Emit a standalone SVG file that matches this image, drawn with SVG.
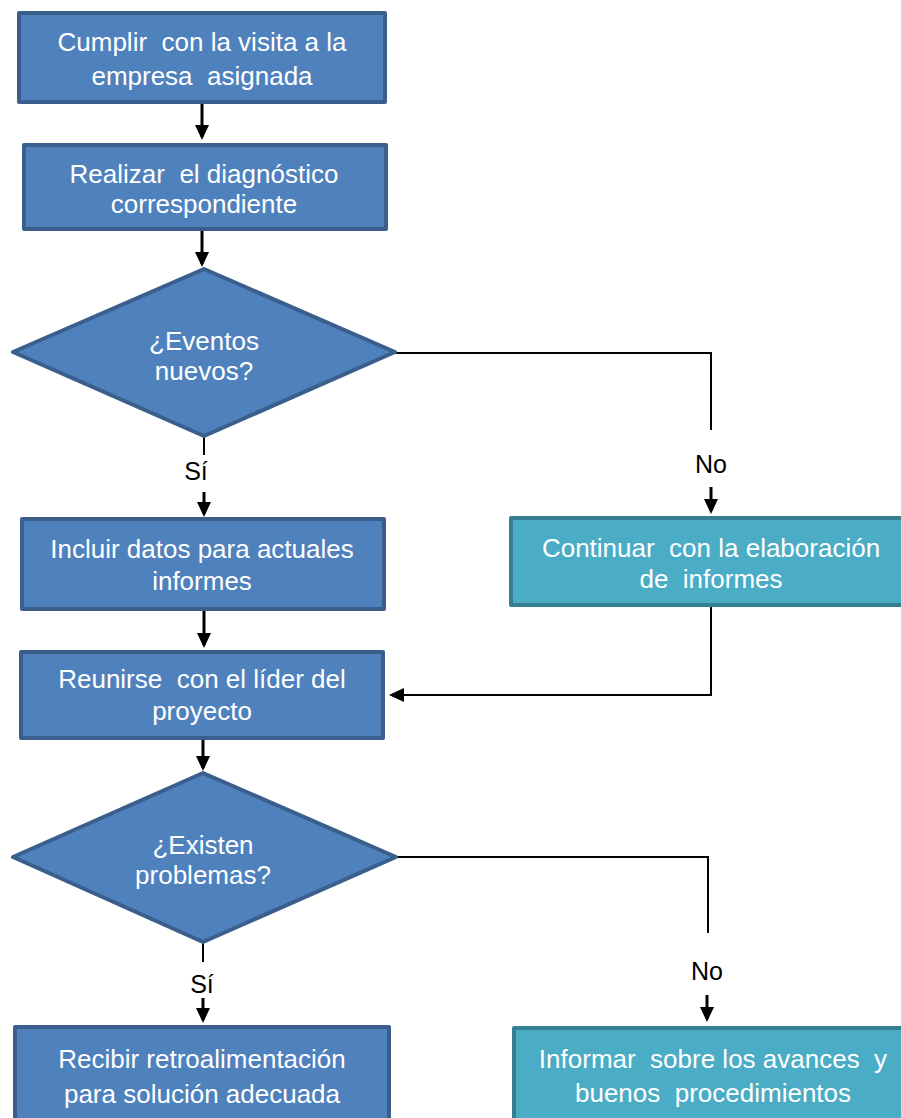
<svg xmlns="http://www.w3.org/2000/svg" width="901" height="1118" viewBox="0 0 901 1118">
<defs>
<style>
.blue{fill:#4F81BD;stroke:#3A5F8C;stroke-width:4;stroke-linejoin:round}
.teal{fill:#4BACC6;stroke:#367F92;stroke-width:4;stroke-linejoin:round}
.t{font-family:"Liberation Sans",Arial,sans-serif;font-size:26px;fill:#FFFFFF;text-anchor:middle}
.lbl{font-family:"Liberation Sans",Arial,sans-serif;font-size:25px;fill:#000000;text-anchor:middle}
.c{fill:none;stroke:#000000;stroke-width:3}
.c2{fill:none;stroke:#000000;stroke-width:2}
</style>
<marker id="ah" markerUnits="userSpaceOnUse" markerWidth="16" markerHeight="16" viewBox="0 0 16 16" refX="12" refY="8" orient="auto">
<path d="M0,1 L15,8 L0,15 z" fill="#000000"/>
</marker>
</defs>
<g id="connectors">
<line class="c" x1="202" y1="104" x2="202" y2="137" marker-end="url(#ah)"/>
<line class="c" x1="202" y1="231" x2="202" y2="264" marker-end="url(#ah)"/>
<line class="c2" x1="204" y1="436" x2="204" y2="455"/>
<line class="c" x1="204" y1="492" x2="204" y2="514" marker-end="url(#ah)"/>
<polyline class="c2" points="395,353 711,353 711,430"/>
<line class="c" x1="711" y1="487" x2="711" y2="511" marker-end="url(#ah)"/>
<polyline class="c2" points="711,607 711,695 395,695"/>
<line class="c" x1="400" y1="695" x2="392" y2="695" marker-end="url(#ah)"/>
<line class="c" x1="204" y1="610" x2="204" y2="645" marker-end="url(#ah)"/>
<line class="c" x1="203" y1="740" x2="203" y2="768" marker-end="url(#ah)"/>
<polyline class="c2" points="396,857 708,857 708,933"/>
<line class="c" x1="707" y1="995" x2="707" y2="1019" marker-end="url(#ah)"/>
<line class="c2" x1="203" y1="943" x2="203" y2="962"/>
<line class="c" x1="203" y1="998" x2="203" y2="1020" marker-end="url(#ah)"/>
<text class="lbl" x="196" y="480">Sí</text>
<text class="lbl" x="711" y="473">No</text>
<text class="lbl" x="707" y="980">No</text>
<text class="lbl" x="202" y="993">Sí</text>
</g>
<g id="n1">
<rect class="blue" x="19" y="13" width="366" height="89"/>
<text class="t" x="202" y="51" xml:space="preserve">Cumplir  con la visita a la</text>
<text class="t" x="202" y="85" xml:space="preserve">empresa  asignada</text>
</g>
<g id="n2">
<rect class="blue" x="24" y="145" width="362" height="84"/>
<text class="t" x="204" y="183" xml:space="preserve">Realizar  el diagnóstico</text>
<text class="t" x="204" y="213">correspondiente</text>
</g>
<g id="d1">
<polygon class="blue" points="204,269 395,352 204,436 13,352"/>
<text class="t" x="204" y="350">¿Eventos</text>
<text class="t" x="204" y="380">nuevos?</text>
</g>
<g id="n3">
<rect class="blue" x="22" y="519" width="362" height="90"/>
<text class="t" x="202" y="558">Incluir datos para actuales</text>
<text class="t" x="202" y="590">informes</text>
</g>
<g id="n4">
<rect class="teal" x="511" y="518" width="400" height="87"/>
<text class="t" x="711" y="557" xml:space="preserve">Continuar  con la elaboración</text>
<text class="t" x="711" y="588" xml:space="preserve">de  informes</text>
</g>
<g id="n5">
<rect class="blue" x="21" y="652" width="362" height="86"/>
<text class="t" x="202" y="688" xml:space="preserve">Reunirse  con el líder del</text>
<text class="t" x="202" y="720">proyecto</text>
</g>
<g id="d2">
<polygon class="blue" points="203,773 396,857 203,942 13,857"/>
<text class="t" x="203" y="854">¿Existen</text>
<text class="t" x="203" y="884">problemas?</text>
</g>
<g id="n6">
<rect class="teal" x="514" y="1028" width="400" height="100"/>
<text class="t" x="713" y="1068" xml:space="preserve">Informar  sobre los avances  y</text>
<text class="t" x="713" y="1102" xml:space="preserve">buenos  procedimientos</text>
</g>
<g id="n7">
<rect class="blue" x="15" y="1027" width="374" height="100"/>
<text class="t" x="202" y="1068">Recibir retroalimentación</text>
<text class="t" x="202" y="1103">para solución adecuada</text>
</g>
</svg>
